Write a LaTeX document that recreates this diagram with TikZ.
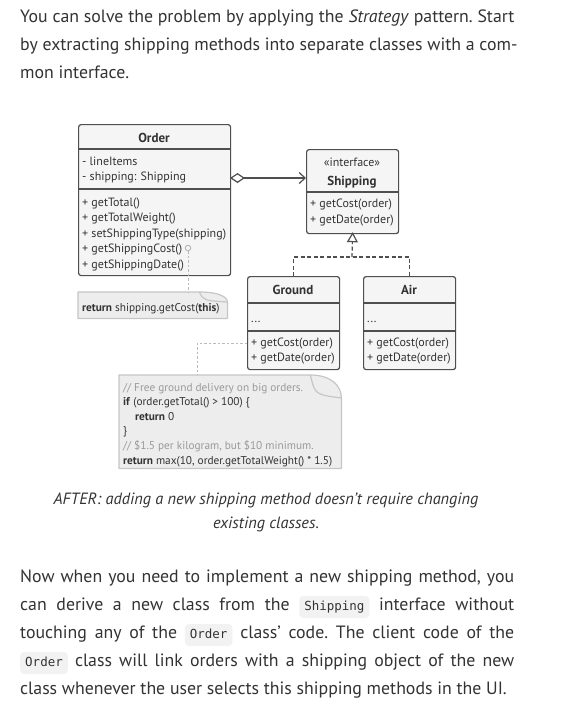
\documentclass[tikz,border=0pt]{standalone}
\usepackage{fontspec}
\setmainfont{PT Sans}
\setmonofont{DejaVu Sans Mono}
\usetikzlibrary{arrows.meta,positioning,calc}

\definecolor{ink}{HTML}{333333}
\definecolor{umlline}{HTML}{4F4F4F}
\definecolor{umlfill}{HTML}{F5F5F5}
\definecolor{notefill}{HTML}{EDEDED}
\definecolor{noteline}{HTML}{C6C6C6}
\definecolor{notegray}{HTML}{9A9A9A}
\definecolor{codebg}{HTML}{F2F2F2}

\newcommand\bodysize{\fontsize{17.8}{28}\selectfont\frenchspacing}
\newcommand\capsize{\fontsize{16.3}{24}\selectfont}
\newcommand\umlsize{\fontsize{12}{13}\selectfont}
\newcommand\umltitlesize{\fontsize{13}{14}\selectfont}
\newcommand\notesize{\fontsize{11.3}{12}\selectfont}
\newcommand\codesize{\ttfamily\fontsize{12.5}{14}\selectfont}

% inline code chip in the running text
\newcommand\codeword[2]{\tikz[baseline=(#1.base)]\node[codechip] (#1) {#2};}

% note with a curled corner, drawn round an empty node
\newcommand\foldnote[3]{%
  \draw[notepaper] (#1.north west) -- ($(#1.north east)+(-#2,0)$)
    .. controls ($(#1.north east)+(-#2*0.35,0)$) and ($(#1.north east)+(0,#3*0.45)$) .. ($(#1.north east)+(0,#3)$)
    -- (#1.south east) -- (#1.south west) -- cycle;
  \draw[notefold] ($(#1.north east)+(-#2,0)$)
    .. controls ($(#1.north east)+(-#2*0.85,#3*0.85)$) .. ($(#1.north east)+(0,#3)$);
}

\begin{document}
\begin{tikzpicture}[x=1pt, y=-1pt]
    \tikzstyle{classbox} = [draw=umlline, fill=umlfill, line width=1.2pt, rounded corners=2.5pt, inner sep=0pt, anchor=north west]
    \tikzstyle{umlsep} = [draw=umlline, line width=1.2pt]
    \tikzstyle{classname} = [anchor=base, inner sep=0pt, font=\umltitlesize\bfseries, text=ink]
    \tikzstyle{member} = [anchor=base west, inner sep=0pt, font=\umlsize, text=ink]
    \tikzstyle{notebox} = [inner sep=0pt, anchor=north west]
    \tikzstyle{notepaper} = [draw=noteline, fill=notefill, line width=1.2pt, line join=round]
    \tikzstyle{notefold} = [draw=noteline, line width=1.2pt]
    \tikzstyle{notetext} = [anchor=base west, inner sep=0pt, font=\notesize, text=ink]
    \tikzstyle{notecomment} = [notetext, text=notegray]
    \tikzstyle{dotlink} = [draw=gray!55, line width=1pt, dash pattern=on 2.5pt off 2pt]
    \tikzstyle{pindot} = [circle, draw=gray!55, line width=1pt, minimum size=5.5pt, inner sep=0pt]
    \tikzstyle{aggr} = [draw=umlline, line width=1.2pt, {Diamond[open, length=15pt, width=10pt, line width=1.2pt]}-{Straight Barb[length=6pt, width=11pt, line width=1.2pt]}]
    \tikzstyle{realize} = [draw=umlline, line width=1.2pt, dash pattern=on 4pt off 2.5pt]
    \tikzstyle{bodyline} = [anchor=base west, inner sep=0pt, font=\bodysize, text=ink]
    \tikzstyle{captionline} = [anchor=base, inner sep=0pt, font=\capsize\itshape, text=ink]
    \tikzstyle{codechip} = [fill=codebg, rounded corners=4pt, inner xsep=5pt, inner ysep=5pt, text height=9pt, text depth=3pt, font=\codesize, text=ink]

    \fill[white] (0,0) rectangle (568,702);
    \useasboundingbox (0,0) rectangle (568,702);

    % text above the diagram
    \node[bodyline] (intro1) at (20,22) {You can solve the problem by applying the \textit{Strategy} pattern. Start};
    \node[bodyline] (intro2) at (20,50) {by extracting shipping methods into separate classes with a com-};
    \node[bodyline] (intro3) at (20,78) {mon interface.};

    % Order
    \node[classbox, minimum width=152pt, minimum height=151pt] (order) at (78,124) {};
    \draw[umlsep] (78,149) -- (230,149);
    \draw[umlsep] (78,189) -- (230,189);
    \node[classname] (ordername) at (154,142) {Order};
    \node[member] (lineitems) at (82,165) {- lineItems};
    \node[member] (shipfield) at (82,180.5) {- shipping: Shipping};
    \node[member] (gettotal) at (82,206) {+ getTotal()};
    \node[member] (getweight) at (82,221.5) {+ getTotalWeight()};
    \node[member] (settype) at (82,237) {+ setShippingType(shipping)};
    \node[member] (getcost) at (82,252.5) {+ getShippingCost()};
    \node[member] (getdate) at (82,268) {+ getShippingDate()};
    \node[pindot] (costdot) at (188,248) {};

    \node[notebox, minimum width=149pt, minimum height=26pt] (costnote) at (78,292) {};
    \foldnote{costnote}{28}{10}
    \node[notetext] (costcode) at (82,311) {\textbf{return} shipping.getCost(\textbf{this})};
    \draw[dotlink] (costdot) -- (costdot |- costnote.north);

    % Shipping
    \node[classbox, minimum width=92pt, minimum height=84pt] (shipping) at (306,149) {};
    \draw[umlsep] (306,192) -- (398,192);
    \node[member, anchor=base] (stereo) at (352,166.5) {«interface»};
    \node[classname] (shipname) at (352,185.5) {Shipping};
    \node[member] (shipcost) at (310,207.5) {+ getCost(order)};
    \node[member] (shipdate) at (310,223) {+ getDate(order)};

    \coordinate (orderagg) at (230,178);
    \draw[aggr] (orderagg) -- (orderagg -| shipping.west);

    % Ground and Air
    \node[classbox, minimum width=92pt, minimum height=93pt] (ground) at (247,276) {};
    \draw[umlsep] (247,303) -- (339,303);
    \draw[umlsep] (247,331) -- (339,331);
    \node[classname] (groundname) at (293,294.5) {Ground};
    \node[member] (groundattr) at (251,322) {...};
    \node[member] (groundcost) at (251,346.5) {+ getCost(order)};
    \node[member] (grounddate) at (251,361.5) {+ getDate(order)};

    \node[classbox, minimum width=92pt, minimum height=93pt] (air) at (363,276) {};
    \draw[umlsep] (363,303) -- (455,303);
    \draw[umlsep] (363,331) -- (455,331);
    \node[classname] (airname) at (409,294.5) {Air};
    \node[member] (airattr) at (367,322) {...};
    \node[member] (aircost) at (367,346.5) {+ getCost(order)};
    \node[member] (airdate) at (367,361.5) {+ getDate(order)};

    \coordinate (realjoin) at (352,257);
    \draw[realize] (ground.north) |- (realjoin) -| (air.north);
    \draw[realize, -{Triangle[open, length=10pt, width=11pt, line width=1.2pt]}, shorten >=-2pt] (realjoin) -- (shipping.south);

    % note on Ground
    \node[notebox, minimum width=222pt, minimum height=93pt] (groundnote) at (119,375) {};
    \foldnote{groundnote}{31}{23}
    \node[notecomment] (gnote1) at (123,391) {// Free ground delivery on big orders.};
    \node[notetext] (gnote2) at (123,405.6) {\textbf{if} (order.getTotal() > 100) \{};
    \node[notetext] (gnote3) at (135,420.2) {\textbf{return} 0};
    \node[notetext] (gnote4) at (123,434.8) {\}};
    \node[notecomment] (gnote5) at (123,449.4) {// \$1.5 per kilogram, but \$10 minimum.};
    \node[notetext] (gnote6) at (123,464) {\textbf{return} max(10, order.getTotalWeight() * 1.5)};
    \coordinate (groundhook) at (247,343);
    \coordinate (notehook) at (197,375);
    \draw[dotlink] (groundhook) -| (notehook);

    % caption
    \node[captionline] (caption1) at (266,504) {AFTER: adding a new shipping method doesn't require changing};
    \node[captionline] (caption2) at (266,528) {existing classes.};

    % text below the diagram
    \node[bodyline] (outro1) at (20,582) {\makebox[494pt][s]{Now when you need to implement a new shipping method, you}};
    \node[bodyline] (outro2) at (20,610) {\makebox[494pt][s]{can derive a new class from the \codeword{shipchip}{Shipping} interface without}};
    \node[bodyline] (outro3) at (20,638) {\makebox[494pt][s]{touching any of the \codeword{orderchip}{Order} class' code. The client code of the}};
    \node[bodyline] (outro4) at (20,666) {\makebox[494pt][s]{\codeword{orderchipb}{Order} class will link orders with a shipping object of the new}};
    \node[bodyline] (outro5) at (20,694) {class whenever the user selects this shipping methods in the UI.};
\end{tikzpicture}
\end{document}
